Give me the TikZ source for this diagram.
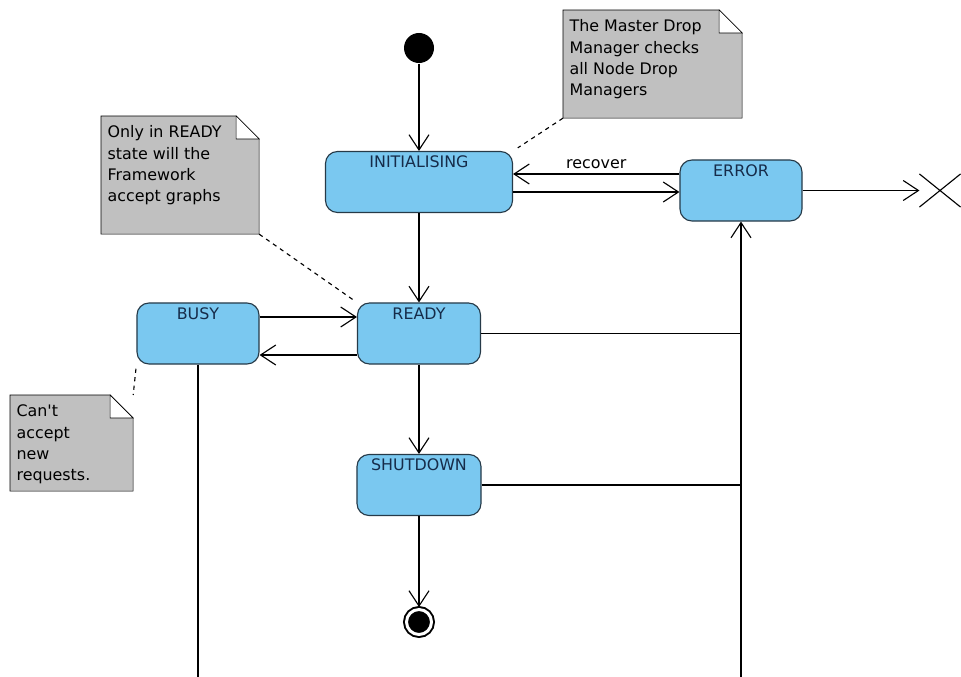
\documentclass[tikz,border=0pt]{standalone}
\usepackage{fontspec}
\setmainfont{DejaVu Sans}
\usetikzlibrary{arrows.meta,shapes.misc,backgrounds}
\definecolor{stateblue}{RGB}{122,200,240}
\definecolor{stateline}{RGB}{38,58,72}
\definecolor{statetext}{RGB}{22,44,74}
\definecolor{notegray}{RGB}{192,192,192}
\begin{document}
\begin{tikzpicture}
  [x=0.025cm,y=-0.025cm,line width=0.8pt,
   font=\fontsize{11.3}{15.1}\selectfont,
   >={Straight Barb[length=0.38cm,width=0.5cm]},
   state/.style={draw=stateline,fill=stateblue,text=statetext,rounded corners=0.3cm,
     inner ysep=0,text height=0.41cm,text depth=1.115cm},
   final/.style={circle,fill=black,draw=black,double=white,double distance=2.1pt,
     line width=1.4pt,minimum size=0.625cm,inner sep=0,outer sep=1.8pt},
   note/.style={anchor=north west,inner xsep=0.15cm,inner ysep=0.16cm},
   notebody/.style={fill=notegray,draw=black},
   link/.style={dashed}]
  \useasboundingbox (0,0) rectangle (961,677);

  \node[circle,fill=black,minimum size=0.75cm,inner sep=0] (start) at (419,48) {};
  \node[state,minimum width=4.675cm] (initialising) at (419,182) {INITIALISING};
  \node[state,minimum width=3.05cm] (error) at (741,190.5) {ERROR};
  \node[state,minimum width=3.075cm] (ready) at (419,333.5) {READY};
  \node[state,minimum width=3.05cm] (busy) at (198,333.5) {BUSY};
  \node[state,minimum width=3.1cm] (shutdown) at (419,485) {SHUTDOWN};
  \node[final] (final) at (419,622) {};
  \node[draw,cross out,minimum width=1cm,minimum height=0.8cm] (term) at (940,190.5) {};

  \node[note] (notemaster) at (563,10)
    {\parbox[t][2.355cm][t]{4.15cm}{\strut The Master Drop\\Manager checks\\all Node Drop\\Managers}};
  \node[note] (noteready) at (101,116)
    {\parbox[t][2.605cm][t]{3.625cm}{\strut Only in READY\\state will the\\Framework\\accept graphs}};
  \node[note] (notebusy) at (10,395)
    {\parbox[t][2.055cm][t]{2.75cm}{\strut Can\textquotesingle t\\accept\\new\\requests.}};

  \begin{scope}[on background layer]
    \foreach \n in {notemaster,noteready,notebusy} {
      \draw[notebody] (\n.south west) -- (\n.north west) -- ([xshift=-0.575cm]\n.north east)
        -- ([yshift=-0.575cm]\n.north east) -- (\n.south east) -- cycle;
      \draw[fill=white] ([xshift=-0.575cm]\n.north east) |- ([yshift=-0.575cm]\n.north east) -- cycle;
    }
  \end{scope}

  \draw[->] (start) -- (initialising);
  \draw[->] (initialising) -- (ready);
  \draw[->] (ready) -- (shutdown);
  \draw[->] (shutdown) -- (final);
  \draw[->] (error.west |- 0,174) -- (initialising.east |- 0,174) node[midway,above] {recover};
  \draw[->] (initialising.east |- 0,192) -- (error.west |- 0,192);
  \draw[->] (error) -- (term);
  \draw[->] (busy.east |- 0,317) -- (ready.west |- 0,317);
  \draw[->] (ready.west |- 0,355) -- (busy.east |- 0,355);
  \draw (ready) -- (ready -| error);
  \draw (shutdown) -- (shutdown -| error);
  \coordinate (errorin) at (741,677);
  \draw[->] (errorin) -- (error);
  \coordinate (busyout) at (198,677);
  \draw (busy) -- (busyout);

  \draw[link,shorten >=4pt] (notemaster.south west) -- (initialising.north east);
  \draw[link,shorten >=3pt] (noteready.south east) -- (ready.north west);
  \draw[link,shorten <=3pt] (busy.south west) -- (notebusy.north east);
\end{tikzpicture}
\end{document}
